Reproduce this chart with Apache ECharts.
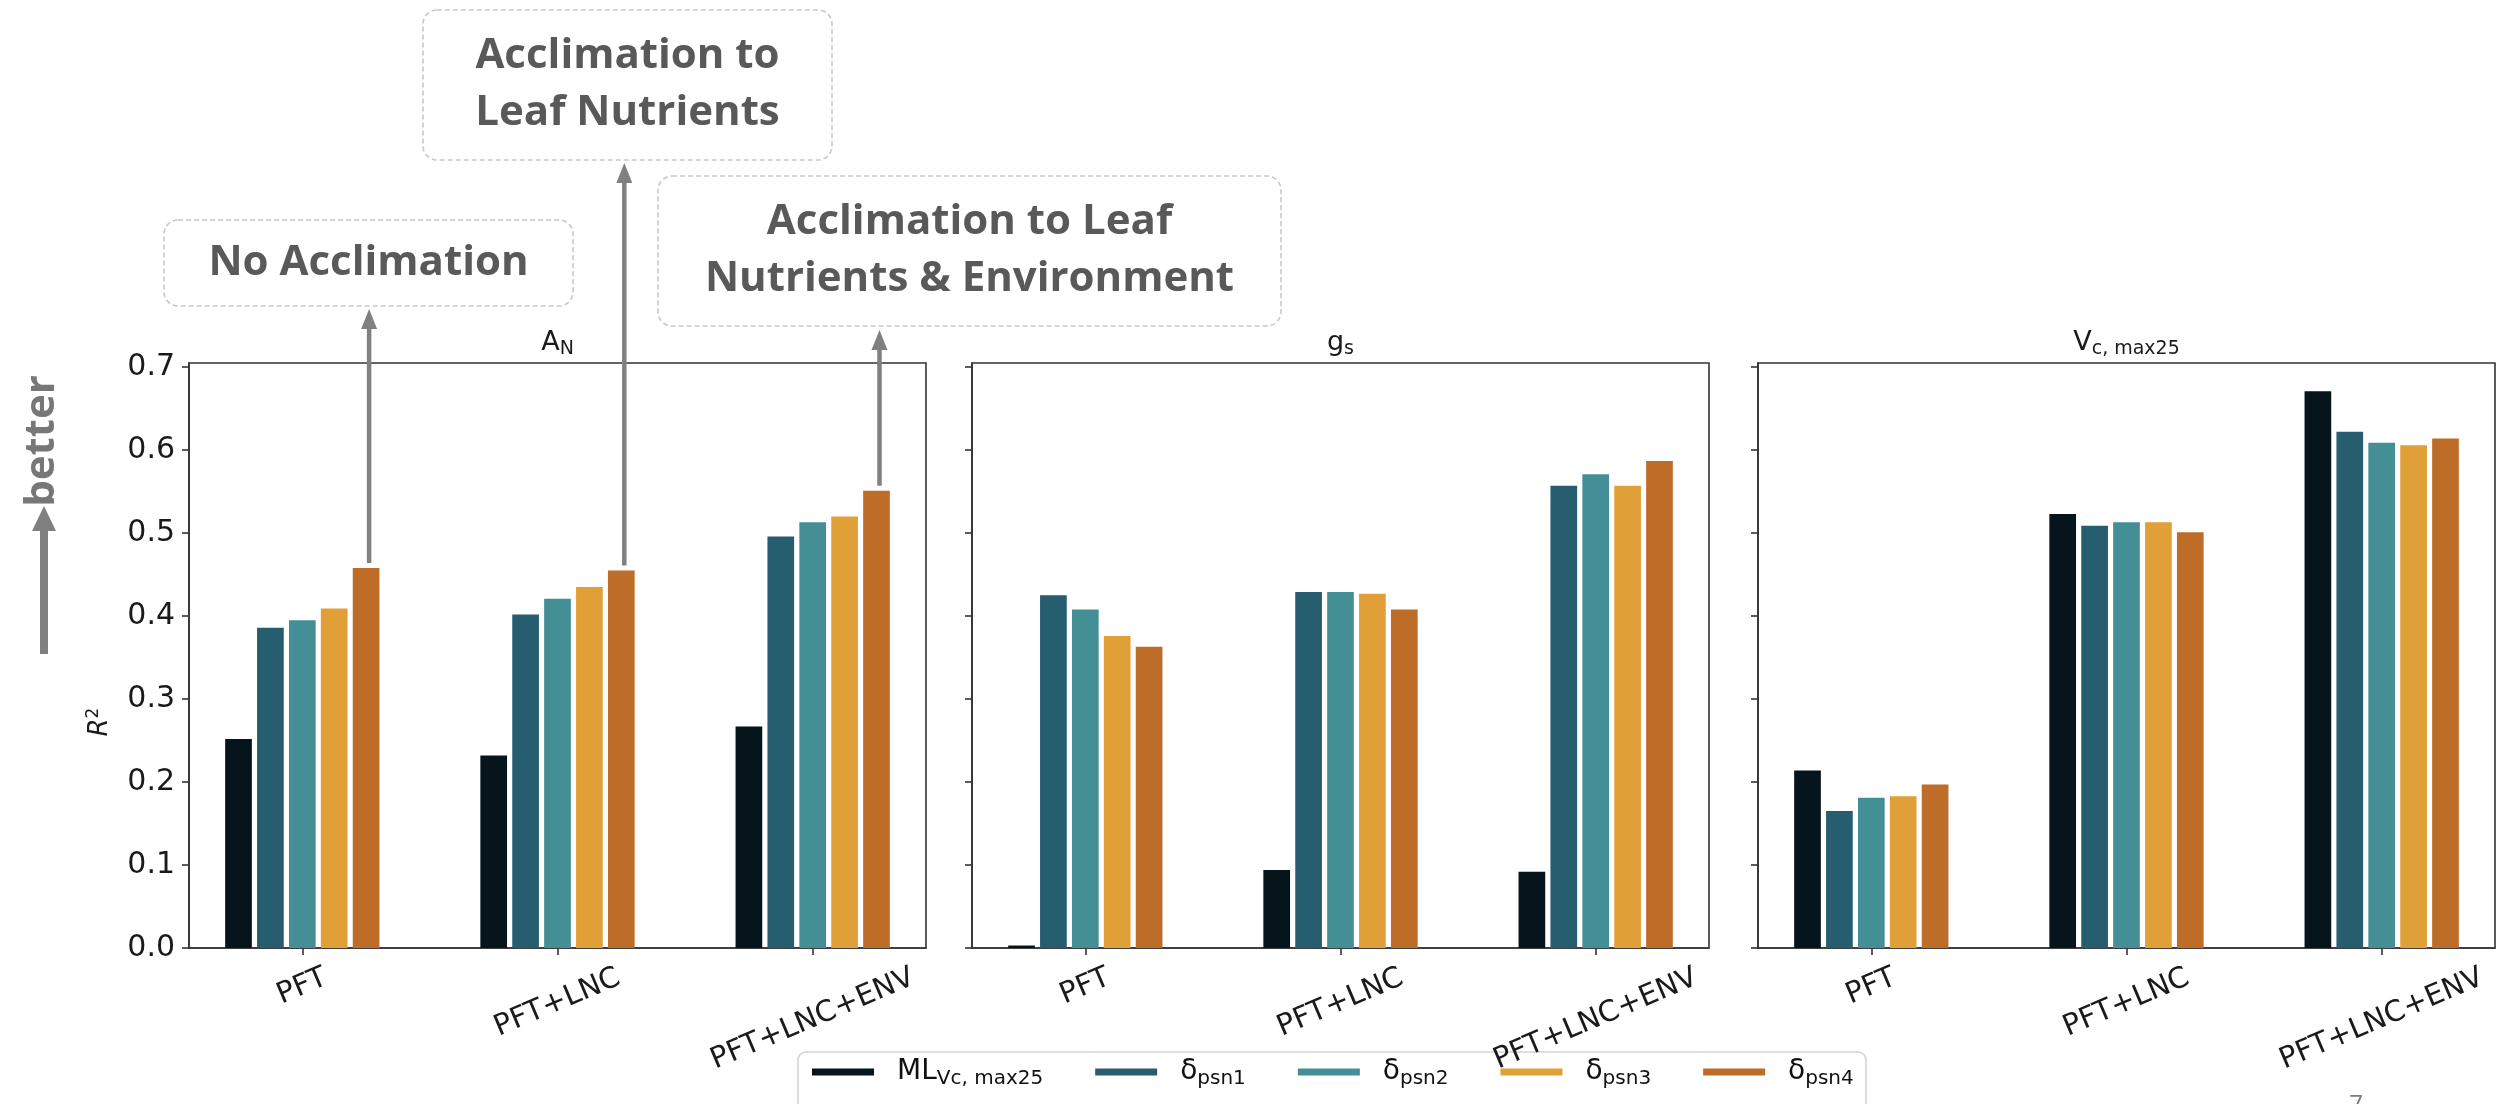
<!DOCTYPE html>
<html>
<head>
<meta charset="utf-8">
<script src="https://cdn.jsdelivr.net/npm/echarts@6/dist/echarts.min.js"></script>
<style>
  html, body { margin: 0; padding: 0; background: #ffffff; }
  #chart { width: 2496px; height: 1104px; }
</style>
</head>
<body>
<div id="chart"></div>
<script>
// ---- data -------------------------------------------------------------
const categories = ['PFT', 'PFT+LNC', 'PFT+LNC+ENV'];
const panelKeys = ['AN', 'gs', 'Vcmax25'];
const seriesNames = ['ML_Vcmax25', 'δpsn1', 'δpsn2', 'δpsn3', 'δpsn4'];
const yTicks = [0, 0.1, 0.2, 0.3, 0.4, 0.5, 0.6, 0.7];

// R² of net assimilation A_N
const an_ml   = [0.252, 0.232, 0.267];
const an_psn1 = [0.386, 0.402, 0.496];
const an_psn2 = [0.395, 0.421, 0.513];
const an_psn3 = [0.409, 0.435, 0.520];
const an_psn4 = [0.458, 0.455, 0.551];

// R² of stomatal conductance g_s
const gs_ml   = [0.003, 0.094, 0.092];
const gs_psn1 = [0.425, 0.429, 0.557];
const gs_psn2 = [0.408, 0.429, 0.571];
const gs_psn3 = [0.376, 0.427, 0.557];
const gs_psn4 = [0.363, 0.408, 0.587];

// R² of Vc,max25
const vc_ml   = [0.214, 0.523, 0.671];
const vc_psn1 = [0.165, 0.509, 0.622];
const vc_psn2 = [0.181, 0.513, 0.609];
const vc_psn3 = [0.183, 0.513, 0.606];
const vc_psn4 = [0.197, 0.501, 0.614];

const panelValues = [
  [an_ml, an_psn1, an_psn2, an_psn3, an_psn4],
  [gs_ml, gs_psn1, gs_psn2, gs_psn3, gs_psn4],
  [vc_ml, vc_psn1, vc_psn2, vc_psn3, vc_psn4]
];

// ---- style / layout ---------------------------------------------------
const COLORS = ['#06151b', '#265d6f', '#438f95', '#e19f37', '#be6d28'];
const FONT = 'DejaVu Sans';
const TICK_FS = 30;
const XLAB_FS = 29;
const AX_COLOR = '#333333';
const GRID_LEFT = [189, 972, 1758];
const GRID_W = 737;
const GRID_TOP = 363;
const GRID_H = 585;
const BAR_W = 0.125;            // width of one bar in category units
const X_MIN = -0.444, X_MAX = 2.444;
const Y_MAX = 0.705;
const LABEL_ROT = 23;

const panelTitleRich = ['{m|A}{s|N}', '{m|g}{s|s}', '{m|V}{s|c, max25}'];

// margin so that each rotated tick label is centred under its tick
const measureCtx = document.createElement('canvas').getContext('2d');
measureCtx.font = XLAB_FS + 'px "' + FONT + '"';
const rad = LABEL_ROT * Math.PI / 180;
const labelMargins = categories.map(function (c) {
  const w = measureCtx.measureText(c).width;
  const h = XLAB_FS * 1.1;
  return 14 + (w * Math.sin(rad) + h * Math.cos(rad)) / 2;
});

const grids = [], xAxes = [], yAxes = [], series = [];

GRID_LEFT.forEach(function (left, g) {
  grids.push({
    left: left, top: GRID_TOP, width: GRID_W, height: GRID_H,
    show: true, borderColor: AX_COLOR, borderWidth: 1.6,
    backgroundColor: 'transparent', containLabel: false
  });
  xAxes.push({
    type: 'value', gridIndex: g, position: 'bottom', min: X_MIN, max: X_MAX,
    axisLine: { show: true, onZero: false, lineStyle: { color: AX_COLOR, width: 1.6 } },
    axisTick: { show: true, length: 7, customValues: [0, 1, 2], lineStyle: { color: AX_COLOR, width: 1.6 } },
    axisLabel: { show: false },
    splitLine: { show: false }
  });
  yAxes.push({
    type: 'value', gridIndex: g, position: 'left', min: 0, max: Y_MAX,
    axisLine: { show: true, onZero: false, lineStyle: { color: AX_COLOR, width: 1.6 } },
    axisTick: { show: true, length: 7, customValues: yTicks, lineStyle: { color: AX_COLOR, width: 1.6 } },
    axisLabel: {
      show: g === 0, customValues: yTicks, margin: 14,
      fontFamily: FONT, fontSize: TICK_FS, color: '#1a1a1a',
      formatter: function (v) { return v.toFixed(1); }
    },
    splitLine: { show: false }
  });
});

// one label-only axis per category so every rotated label gets its own offset
GRID_LEFT.forEach(function (left, g) {
  categories.forEach(function (cat, k) {
    xAxes.push({
      type: 'value', gridIndex: g, position: 'bottom', offset: 0, min: X_MIN, max: X_MAX,
      axisLine: { show: false, onZero: false }, axisTick: { show: false }, splitLine: { show: false },
      axisLabel: {
        show: true, customValues: [k], rotate: LABEL_ROT,
        align: 'center', verticalAlign: 'middle', margin: labelMargins[k],
        fontFamily: FONT, fontSize: XLAB_FS, color: '#1a1a1a',
        formatter: function () { return cat; }
      }
    });
  });
});

panelValues.forEach(function (vals, g) {
  vals.forEach(function (arr, s) {
    series.push({
      type: 'custom',
      name: seriesNames[s],
      xAxisIndex: g, yAxisIndex: g,
      itemStyle: { color: COLORS[s] },
      clip: false,
      encode: { x: 0, y: 1 },
      data: arr.map(function (v, k) { return [k, v]; }),
      renderItem: function (params, api) {
        const k = api.value(0), v = api.value(1);
        const xl = k + (s - 2.5) * BAR_W;
        const p0 = api.coord([xl, v]);
        const p1 = api.coord([xl + BAR_W, 0]);
        const gap = 2.6;
        return {
          type: 'rect',
          shape: { x: p0[0] + gap, y: p0[1], width: p1[0] - p0[0] - 2 * gap, height: p1[1] - p0[1] },
          style: { fill: COLORS[s] }
        };
      }
    });
  });
});

const legendRich = {
  pad: { width: 18 },
  m: { fontFamily: FONT, fontSize: 28, color: '#111' },
  s: { fontFamily: FONT, fontSize: 20, color: '#111', padding: [13, 0, 0, 0] }
};

const chart = echarts.init(document.getElementById('chart'), null, { renderer: 'canvas' });

chart.setOption({
  animation: false,
  backgroundColor: '#ffffff',
  grid: grids,
  xAxis: xAxes,
  yAxis: yAxes,
  series: series,
  legend: {
    left: 807, top: 1053,
    itemWidth: 62, itemHeight: 7, itemGap: 52,
    icon: 'rect',
    data: seriesNames,
    formatter: function (name) {
      if (name === 'ML_Vcmax25') return '{pad|}{m|ML}{s|Vc, max25}';
      return '{pad|}{m|δ}{s|' + name.slice(1) + '}';
    },
    textStyle: { rich: legendRich }
  }
});

// ---- annotations --------------------------------------------------------
const ANN_TEXT = { fontFamily: 'Open Sans', fontWeight: 'bold', fontSize: 42, fill: '#595959', align: 'center', verticalAlign: 'middle', lineHeight: 57 };
const BOX_STYLE = { fill: 'none', stroke: '#c9c9c9', lineWidth: 1.6, lineDash: [5, 3] };
const ARROW_COLOR = '#808080';

const boxes = [
  { x: 164, y: 220, w: 409, h: 86, text: 'No Acclimation', cat: 0, tip: 309 },
  { x: 423, y: 10, w: 409, h: 150, text: 'Acclimation to\nLeaf Nutrients', cat: 1, tip: 163 },
  { x: 658, y: 176, w: 623, h: 150, text: 'Acclimation to Leaf\nNutrients & Environment', cat: 2, tip: 330 }
];

const graphics = [];
boxes.forEach(function (b) {
  graphics.push({ type: 'rect', shape: { x: b.x, y: b.y, width: b.w, height: b.h, r: 14 }, style: BOX_STYLE, z: 10 });
  graphics.push({ type: 'text', x: b.x + b.w / 2, y: b.y + b.h / 2, style: Object.assign({ text: b.text }, ANN_TEXT), z: 11 });
  // arrow starts just above the δpsn4 bar of the A_N panel
  const v = an_psn4[b.cat];
  const p = chart.convertToPixel({ xAxisIndex: 0, yAxisIndex: 0 }, [b.cat + 2 * BAR_W, v]);
  const x = p[0] + 3;
  const headLen = 20, headHalf = 8;
  graphics.push({ type: 'line', shape: { x1: x, y1: p[1] - 5, x2: x, y2: b.tip + headLen - 2 }, style: { stroke: ARROW_COLOR, lineWidth: 4.5 }, z: 12 });
  graphics.push({ type: 'polygon', shape: { points: [[x, b.tip], [x - headHalf, b.tip + headLen], [x + headHalf, b.tip + headLen]] }, style: { fill: ARROW_COLOR }, z: 12 });
});

// panel titles
panelTitleRich.forEach(function (t, g) {
  graphics.push({
    type: 'text', x: GRID_LEFT[g] + GRID_W / 2, y: 343,
    style: {
      text: t, align: 'center', verticalAlign: 'middle',
      rich: {
        m: { fontFamily: FONT, fontSize: 27, fill: '#1a1a1a' },
        s: { fontFamily: FONT, fontSize: 19, fill: '#1a1a1a', padding: [12, 0, 0, 0] }
      }
    }
  });
});

// y axis title
graphics.push({
  type: 'text', x: 100, y: 722, rotation: Math.PI / 2,
  style: {
    text: '{r|R}{p|2}', align: 'center', verticalAlign: 'middle',
    rich: {
      r: { fontFamily: FONT, fontStyle: 'italic', fontSize: 26, fill: '#1a1a1a' },
      p: { fontFamily: FONT, fontSize: 17, fill: '#1a1a1a', padding: [0, 0, 12, 0] }
    }
  }
});

// "better" marker on the far left
graphics.push({
  type: 'text', x: 42, y: 441, rotation: Math.PI / 2,
  style: { text: 'better', fontFamily: 'Open Sans', fontWeight: 'bold', fontSize: 42, fill: '#777777', align: 'center', verticalAlign: 'middle' }
});
graphics.push({ type: 'line', shape: { x1: 44, y1: 654, x2: 44, y2: 528 }, style: { stroke: ARROW_COLOR, lineWidth: 8 } });
graphics.push({ type: 'polygon', shape: { points: [[44, 506], [32, 531], [56, 531]] }, style: { fill: ARROW_COLOR } });

// legend frame
graphics.push({ type: 'rect', shape: { x: 798, y: 1052, width: 1068, height: 80, r: 8 }, style: { fill: 'none', stroke: '#d4d4d4', lineWidth: 1.6 } });

// page number
graphics.push({ type: 'text', x: 2356, y: 1093, style: { text: '7', fontFamily: 'Open Sans', fontSize: 24, fill: '#7a7a7a', align: 'center', verticalAlign: 'top' } });

chart.setOption({ graphic: { elements: graphics } });
</script>
</body>
</html>
